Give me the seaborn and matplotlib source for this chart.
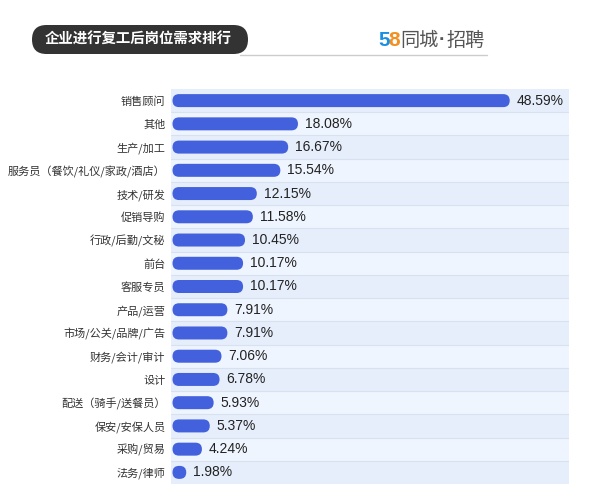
import matplotlib
matplotlib.use("Agg")
import matplotlib.pyplot as plt
import seaborn as sns
import pandas as pd
from matplotlib.patches import FancyBboxPatch, Rectangle

categories = ["销售顾问", "其他", "生产/加工", "服务员（餐饮/礼仪/家政/酒店）", "技术/研发",
              "促销导购", "行政/后勤/文秘", "前台", "客服专员", "产品/运营",
              "市场/公关/品牌/广告", "财务/会计/审计", "设计", "配送（骑手/送餐员）",
              "保安/安保人员", "采购/贸易", "法务/律师"]
values = [48.59, 18.08, 16.67, 15.54, 12.15, 11.58, 10.45, 10.17, 10.17, 7.91,
          7.91, 7.06, 6.78, 5.93, 5.37, 4.24, 1.98]
title = "企业进行复工后岗位需求排行"
logo_digits = ["5", "8"]
logo_words = ["同城", "·", "招聘"]

sns.set_theme(style="white")
plt.rcParams['font.family'] = ['Noto Sans CJK SC', 'DejaVu Sans']

W, H = 600, 496
fig = plt.figure(figsize=(W / 100, H / 100), dpi=100)
fig.patch.set_facecolor("white")

L, R, T, B = 171, 569, 89, 484
ax = fig.add_axes([L / W, 1 - B / H, (R - L) / W, (B - T) / H])

n = len(categories)
px_per_unit = 6.94
x0 = -1.5 / px_per_unit
x1 = x0 + (R - L) / px_per_unit
row_px = (B - T) / n
bar_px = 13
bar_w = bar_px / row_px

df = pd.DataFrame({"cat": categories, "val": values})
sns.barplot(data=df, x="val", y="cat", orient="h", color="#4361dc",
            width=bar_w, ax=ax, zorder=3)

ax.set_xlim(x0, x1)
ax.set_ylim(n - 0.5, -0.5)

# replace bars with rounded ones
aspect = (1 / row_px) / (1 / px_per_unit)
r = (bar_px / 2) / px_per_unit
bars = [p for p in ax.patches if isinstance(p, Rectangle)]
for p in bars:
    x, y, w, h = p.get_x(), p.get_y(), p.get_width(), p.get_height()
    p.set_visible(False)
    rr = min(r, w / 2)
    fb = FancyBboxPatch((x, y), w, h,
                        boxstyle=f"round,pad=0,rounding_size={rr}",
                        mutation_aspect=aspect, facecolor="#4361dc",
                        edgecolor="none", zorder=3)
    ax.add_patch(fb)

# row backgrounds
for i in range(n):
    ax.axhspan(i - 0.5, i + 0.5, color="#e6eefb" if i % 2 == 0 else "#eff5fe",
               zorder=0, lw=0)
    if i > 0:
        ax.axhline(i - 0.5, color="#d8e1ef", lw=0.8, zorder=1)

for i, v in enumerate(values):
    ax.text(v + 7 / px_per_unit, i, f"{v:.2f}%", va="center", ha="left",
            fontsize=10, color="#222222", family=["Liberation Sans", "DejaVu Sans"],
            zorder=4)

ax.set_xlabel("")
ax.set_ylabel("")
ax.set_xticks([])
ax.tick_params(axis="y", length=0, pad=4)
for lab in ax.get_yticklabels():
    lab.set_fontsize(8.0)
    lab.set_color("#333333")
for s in ax.spines.values():
    s.set_visible(False)

# header
tax = fig.add_axes([0, 0, 1, 1], facecolor="none")
tax.set_xlim(0, W)
tax.set_ylim(H, 0)
tax.axis("off")
tax.plot([240, 487], [55, 55], color="#cccccc", lw=1, zorder=1)
pill = FancyBboxPatch((32, 25), 216, 29, boxstyle="round,pad=0,rounding_size=14.5",
                      facecolor="#333333", edgecolor="none", zorder=2)
tax.add_patch(pill)
tax.text(138, 39.5, title, color="white", fontsize=10.4, ha="center", va="center",
         fontweight="bold", zorder=3)

# logo
tax.text(378, 40, logo_digits[0], color="#1a8fe3", fontsize=15, fontweight="bold",
         ha="left", va="center", family=["Liberation Sans", "DejaVu Sans"])
tax.text(388.5, 40, logo_digits[1], color="#f39020", fontsize=15, fontweight="bold",
         ha="left", va="center", family=["Liberation Sans", "DejaVu Sans"])
tax.text(400, 40, logo_words[0], color="#555555", fontsize=13.8, ha="left", va="center",
         fontweight="medium")
tax.text(442, 40, logo_words[1], color="#555555", fontsize=13.8, ha="center", va="center",
         fontweight="bold", family=["Liberation Sans", "DejaVu Sans"])
tax.text(446, 40, logo_words[2], color="#555555", fontsize=13.8, ha="left", va="center",
         fontweight="medium")

fig.savefig("out.png", dpi=100)
